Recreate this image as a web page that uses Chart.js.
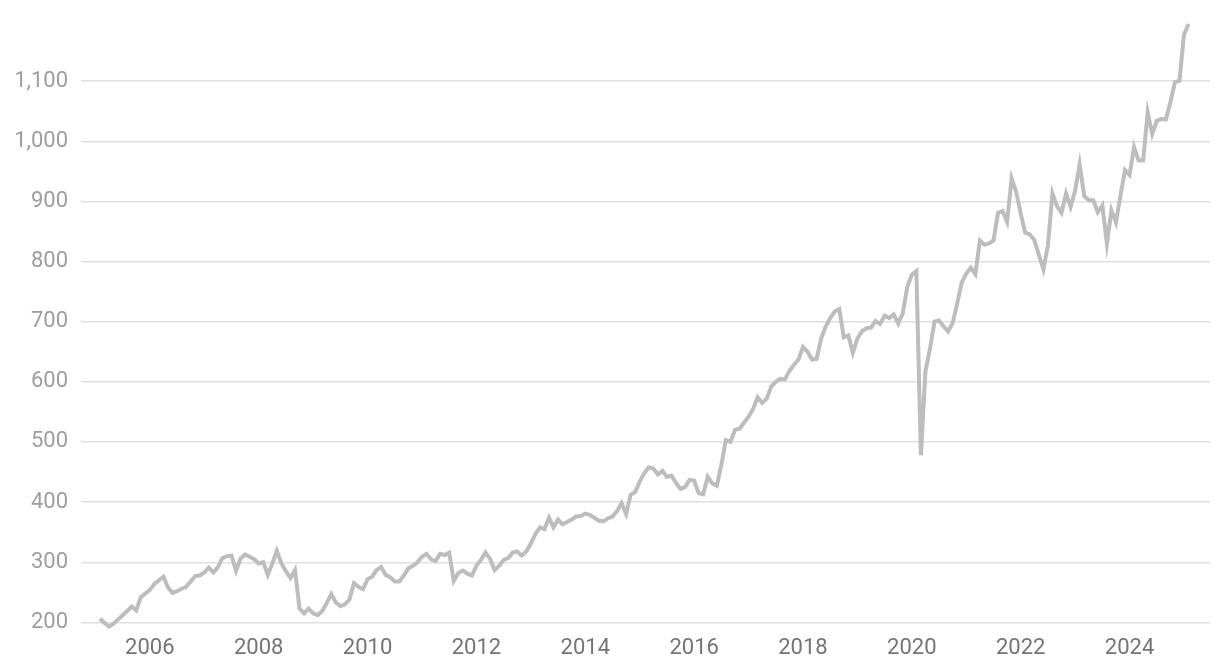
<!DOCTYPE html>
<html>
<head>
<meta charset="utf-8">
<script src="https://cdn.jsdelivr.net/npm/chart.js@4.4.1/dist/chart.umd.min.js"></script>
<style>
  html, body { margin: 0; padding: 0; background: #fff; }
  #chart { display: block; }
</style>
</head>
<body>
<canvas id="chart" width="1220" height="672"></canvas>
<script>
// Monthly series, first value is Feb 2005
const startYear = 2005;
const startMonth = 2;
const values = [
  206, 199, 193, 198, 205, 212, 219, 226, 220, 242,
  248, 254, 264, 270, 276, 258, 249, 252, 256, 259,
  268, 277, 278, 283, 291, 283, 292, 307, 310, 311,
  286, 306, 313, 309, 305, 298, 300, 279, 298, 319,
  298, 285, 274, 287, 223, 215, 223, 215, 212, 219,
  232, 247, 233, 227, 230, 238, 265, 259, 255, 272,
  276, 287, 292, 279, 275, 268, 268, 278, 290, 294,
  300, 309, 314, 305, 302, 314, 312, 316, 269, 282,
  286, 281, 278, 294, 304, 316, 306, 287, 294, 304,
  307, 316, 318, 311, 318, 331, 347, 358, 355, 374,
  358, 371, 363, 367, 371, 376, 377, 381, 379, 374,
  369, 368, 373, 376, 385, 398, 380, 412, 417, 434,
  448, 458, 456, 446, 452, 442, 444, 432, 422, 425,
  437, 436, 415, 413, 442, 431, 427, 462, 503, 500,
  520, 522, 532, 542, 555, 574, 565, 572, 592, 600,
  605, 604, 618, 628, 637, 658, 650, 637, 638, 672,
  692, 706, 717, 721, 674, 677, 648, 672, 684, 689,
  690, 701, 696, 710, 706, 712, 697, 714, 758, 778,
  784, 478, 618, 655, 700, 702, 692, 684, 698, 730,
  765, 780, 790, 779, 835, 828, 830, 835, 881, 884,
  866, 938, 916, 880, 848, 845, 836, 811, 787, 827,
  913, 892, 881, 913, 891, 918, 962, 909, 902, 902,
  882, 893, 830, 885, 865, 910, 952, 944, 990, 968,
  968, 1048, 1012, 1034, 1037, 1036, 1065, 1098, 1101, 1177, 1195
];
const xTickYears = [2006, 2008, 2010, 2012, 2014, 2016, 2018, 2020, 2022, 2024];
const yTickValues = [200, 300, 400, 500, 600, 700, 800, 900, 1000, 1100];

const points = values.map(function (v, i) {
  return { x: startYear + (startMonth - 1 + i) / 12, y: v };
});

const ctx = document.getElementById("chart").getContext("2d");
const chart = new Chart(ctx, {
  type: "line",
  data: {
    datasets: [
      {
        data: points,
        borderColor: "#bdbdbd",
        borderWidth: 4,
        pointRadius: 0,
        tension: 0,
        fill: false,
        clip: false,
      },
    ],
  },
  options: {
    responsive: false,
    animation: false,
    layout: {
      padding: { top: 8, right: 10, left: 0, bottom: 0 },
    },
    plugins: {
      legend: { display: false },
      tooltip: { enabled: false },
    },
    scales: {
      x: {
        type: "linear",
        min: 2004.735,
        max: 2025.478,
        afterBuildTicks: function (scale) {
          scale.ticks = xTickYears.map(function (y) { return { value: y }; });
        },
        afterFit: function (scale) {
          scale.height = 38;
        },
        grid: { display: false, drawTicks: false },
        border: { display: false },
        ticks: {
          autoSkip: false,
          maxRotation: 0,
          padding: 1,
          color: "#757575",
          font: { family: "Roboto", size: 22 },
          callback: function (value) {
            return String(value);
          },
        },
      },
      y: {
        min: 180.7,
        max: 1191.3,
        afterBuildTicks: function (scale) {
          scale.ticks = yTickValues.map(function (v) { return { value: v }; });
        },
        afterFit: function (scale) {
          scale.width = 81;
        },
        grid: {
          color: "#e0e0e0",
          lineWidth: 1.5,
          drawTicks: false,
        },
        border: { display: false },
        ticks: {
          padding: 13,
          color: "#9e9e9e",
          font: { family: "Roboto", size: 22 },
          callback: function (value) {
            return value.toLocaleString("en-US");
          },
        },
      },
    },
  },
});
</script>
</body>
</html>
